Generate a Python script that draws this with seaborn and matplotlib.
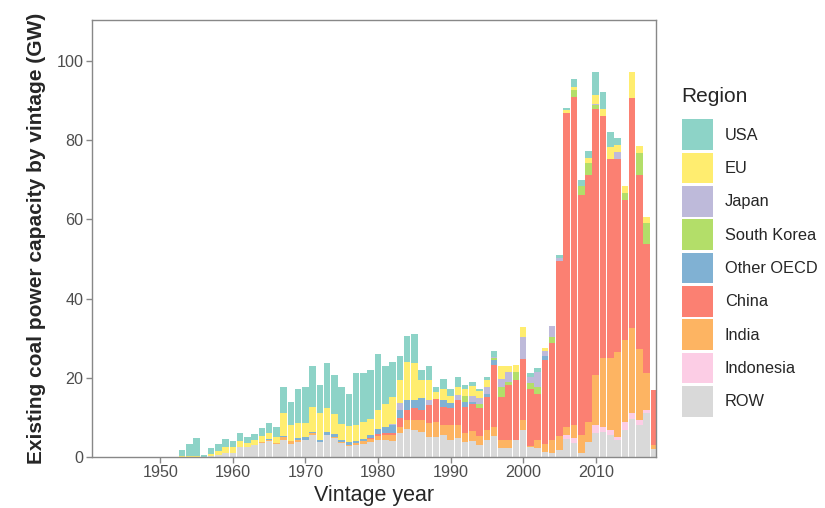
import matplotlib
matplotlib.use("Agg")
import matplotlib.pyplot as plt
from matplotlib.patches import Patch
import numpy as np
import pandas as pd
import seaborn as sns

sns.set_style("white")
plt.rcParams["font.family"] = ["Liberation Sans", "DejaVu Sans"]

years = list(range(1953, 2019))

# one value per vintage year, GW; each line starts at the year in the comment
usa = [1.5, 3.0, 4.5, 0.5, 1.5, 1.8, 2.0, 1.5, 2.0, 1.5,        # 1953
       1.5, 2.0, 2.5, 2.5, 6.4, 5.9, 8.6, 9.2, 10.3, 7.3,       # 1963
       11.4, 9.9, 9.4, 8.1, 13.3, 12.4, 12.4, 14.1, 9.5, 8.7,   # 1973
       6.1, 6.5, 7.4, 2.6, 3.5, 1.3, 2.5, 1.8, 2.5, 1.0,        # 1983
       1.0, 0.7, 0.9, 1.5, 0.0, 0.0, 0.0, 0.0, 1.0, 1.0,        # 1993
       0.0, 0.0, 0.8, 0.6, 2.0, 1.5, 1.9, 5.9, 4.3, 4.0,        # 2003
       1.8, 0.0, 0.0, 0.0, 0.0, 0.0]                            # 2013
eu = [0.3, 0.3, 0.2, 0.1, 0.5, 1.0, 1.5, 1.5, 1.5, 1.0,
      1.2, 1.5, 1.5, 1.5, 6.0, 4.0, 4.0, 3.4, 6.3, 6.7,
      6.1, 5.0, 4.0, 4.0, 3.9, 4.3, 4.1, 5.0, 6.0, 6.9,
      5.8, 9.7, 9.3, 4.6, 5.0, 1.7, 3.0, 1.9, 2.1, 2.0,
      2.5, 1.8, 1.7, 0.0, 3.1, 1.4, 1.7, 2.6, 0.0, 0.0,
      0.7, 0.0, 0.0, 0.7, 0.8, 0.0, 1.3, 2.1, 1.7, 3.0,
      1.7, 1.9, 6.7, 1.9, 1.7, 0.0]
japan = [0, 0, 0, 0, 0, 0, 0, 0, 0, 0,
         0, 0, 0, 0, 0, 0, 0, 0, 0, 0,
         0, 0, 0, 0, 0, 0, 0, 0, 0, 0.2,
         1.7, 0, 0, 0, 1.3, 0, 0, 0, 1.3, 0,
         1.5, 1.3, 1.7, 0.3, 2.1, 2.5, 0, 5.5, 1.6, 3.8,
         1.5, 2.7, 0.6, 0, 0, 0, 0, 0.5, 0, 0,
         1.7, 0, 0, 0, 0, 0]
south_korea = [0, 0, 0, 0, 0, 0, 0, 0, 0, 0,
               0, 0, 0, 0, 0, 0, 0, 0, 0, 0,
               0, 0, 0, 0, 0, 0, 0, 0, 0, 0,
               0, 0, 0, 0, 0, 0, 0, 0, 0, 1.3,
               0, 1.2, 0, 0.5, 2.5, 0.8, 2.1, 0, 1.5, 1.7,
               0, 1.7, 0, 0, 1.7, 2.3, 2.9, 0.8, 0, 0,
               0, 1.7, 0, 5.5, 5.2, 0]
other_oecd = [0, 0, 0, 0, 0, 0, 0, 0, 0, 0,
              0, 0, 0.3, 0, 0.2, 0, 0.4, 0.8, 0.4, 0.4,
              0.8, 0.8, 0.6, 0.7, 0.6, 0.6, 0.8, 1.2, 1.5, 2.0,
              2.1, 2.5, 2.1, 2.9, 0, 0, 1.7, 1.3, 0, 1.3,
              0.5, 0, 0.8, 1.2, 0, 0, 0, 0, 0, 0,
              1.0, 0, 0, 0, 0, 0, 0, 0, 0, 0,
              0, 0, 0, 0, 0, 0]
china = [0, 0, 0, 0, 0, 0, 0, 0, 0, 0,
         0, 0, 0, 0, 0, 0, 0, 0, 0, 0,
         0, 0, 0, 0, 0, 0, 0.2, 0.4, 0.5, 0.6,
         2.1, 2.6, 3.0, 2.6, 4.6, 5.8, 4.6, 4.2, 6.3, 6.7,
         7.0, 7.0, 8.4, 15.8, 10.9, 14.0, 15.1, 15.5, 14.3, 11.6,
         21.0, 24.4, 44.4, 79.2, 82.9, 60.6, 62.4, 67.3, 61.2, 50.3,
         48.8, 35.4, 58.1, 43.8, 32.7, 14.0]
india = [0, 0, 0, 0, 0, 0, 0, 0, 0, 0,
         0, 0.2, 0.2, 0.2, 0.7, 0.7, 0.4, 0, 0.5, 0,
         0, 0.3, 0.2, 0.3, 0.5, 0.6, 0.8, 1.2, 1.2, 1.5,
         1.7, 2.1, 2.5, 2.9, 3.4, 3.8, 2.5, 3.8, 3.4, 2.1,
         2.5, 2.3, 2.5, 2.2, 2.1, 2.0, 0, 2.5, 0.3, 2.1,
         2.1, 3.4, 3.4, 2.1, 3.4, 4.7, 5.0, 12.6, 17.2, 18.1,
         21.5, 20.6, 21.5, 18.1, 9.2, 1.0]
indonesia = [0, 0, 0, 0, 0, 0, 0, 0, 0, 0,
             0, 0, 0, 0, 0, 0, 0, 0, 0, 0,
             0, 0, 0, 0, 0, 0, 0, 0, 0, 0,
             0, 0, 0, 0, 0, 0, 0, 0, 0, 0,
             0, 0, 0, 0, 0, 0, 0, 0, 0, 0,
             0, 0, 0, 1.0, 1.2, 0, 0, 2.1, 1.3, 1.3,
             0.8, 2.1, 1.5, 1.3, 0.9, 0]
row = [0, 0, 0, 0, 0.2, 0.5, 1.0, 1.0, 2.5, 2.5,
       3.0, 3.5, 4.0, 3.3, 4.3, 3.4, 3.9, 4.3, 5.5, 3.9,
       5.5, 4.7, 3.5, 2.8, 3.0, 3.4, 3.8, 4.2, 4.3, 4.0,
       6.0, 7.2, 6.8, 6.4, 5.1, 5.1, 5.5, 4.3, 4.7, 3.9,
       4.0, 3.0, 4.3, 5.3, 2.2, 2.2, 4.3, 6.8, 2.6, 2.2,
       1.3, 0.9, 1.8, 4.6, 3.5, 0.9, 3.9, 6.0, 6.4, 5.5,
       4.3, 6.8, 9.5, 8.0, 11.0, 2.0]

regions = ["USA", "EU", "Japan", "South Korea", "Other OECD",
           "China", "India", "Indonesia", "ROW"]
region_colors = ["#8DD3C7", "#FFED6F", "#BEBADA", "#B3DE69", "#80B1D3",
                 "#FB8072", "#FDB462", "#FCCDE5", "#D9D9D9"]

series = [usa, eu, japan, south_korea, other_oecd, china, india, indonesia, row]
df = pd.concat(
    [pd.DataFrame({"year": years, "gw": vals, "region": name})
     for name, vals in zip(regions, series)],
    ignore_index=True,
)

fig = plt.figure(figsize=(8.25, 5.08), dpi=100)
ax = fig.add_axes([92 / 825, 1 - 457 / 508, (656 - 92) / 825, (457 - 20) / 508])

# seaborn stacks the first hue level on top, like ggplot
sns.histplot(data=df, x="year", weights="gw", hue="region", hue_order=regions,
             palette=region_colors, multiple="stack", discrete=True, shrink=0.9,
             alpha=1, linewidth=0, legend=False, ax=ax)

ax.set_xlim(1940.6, 2018.3)
ax.set_ylim(0, 110.4)
ax.set_xticks(np.arange(1950, 2011, 10))
ax.set_yticks(np.arange(0, 101, 20))
ax.set_xlabel("Vintage year", fontsize=15.5, labelpad=3)
ax.set_ylabel("Existing coal power capacity by vintage (GW)", fontsize=15,
              fontweight="bold", labelpad=8)
ax.tick_params(direction="out", length=4, width=1, color="#888888",
               labelsize=11.6, labelcolor="#4D4D4D", pad=2,
               bottom=True, left=True)
for spine in ax.spines.values():
    spine.set_color("#888888")
    spine.set_linewidth(1.0)
ax.grid(False)

fig.text(681 / 825, 1 - 97 / 508, "Region", fontsize=15, va="center", ha="left")
handles = [Patch(facecolor=c, edgecolor="none", label=r)
           for r, c in zip(regions, region_colors)]
fig.legend(handles=handles, loc="upper left",
           bbox_to_anchor=(681.5 / 825, 1 - 119.3 / 508),
           frameon=False, fontsize=11.8, borderpad=0, borderaxespad=0,
           handlelength=1.93, handleheight=2.505, labelspacing=0.16,
           handletextpad=0.71)

fig.savefig("out.png", dpi=100)
plt.close(fig)
